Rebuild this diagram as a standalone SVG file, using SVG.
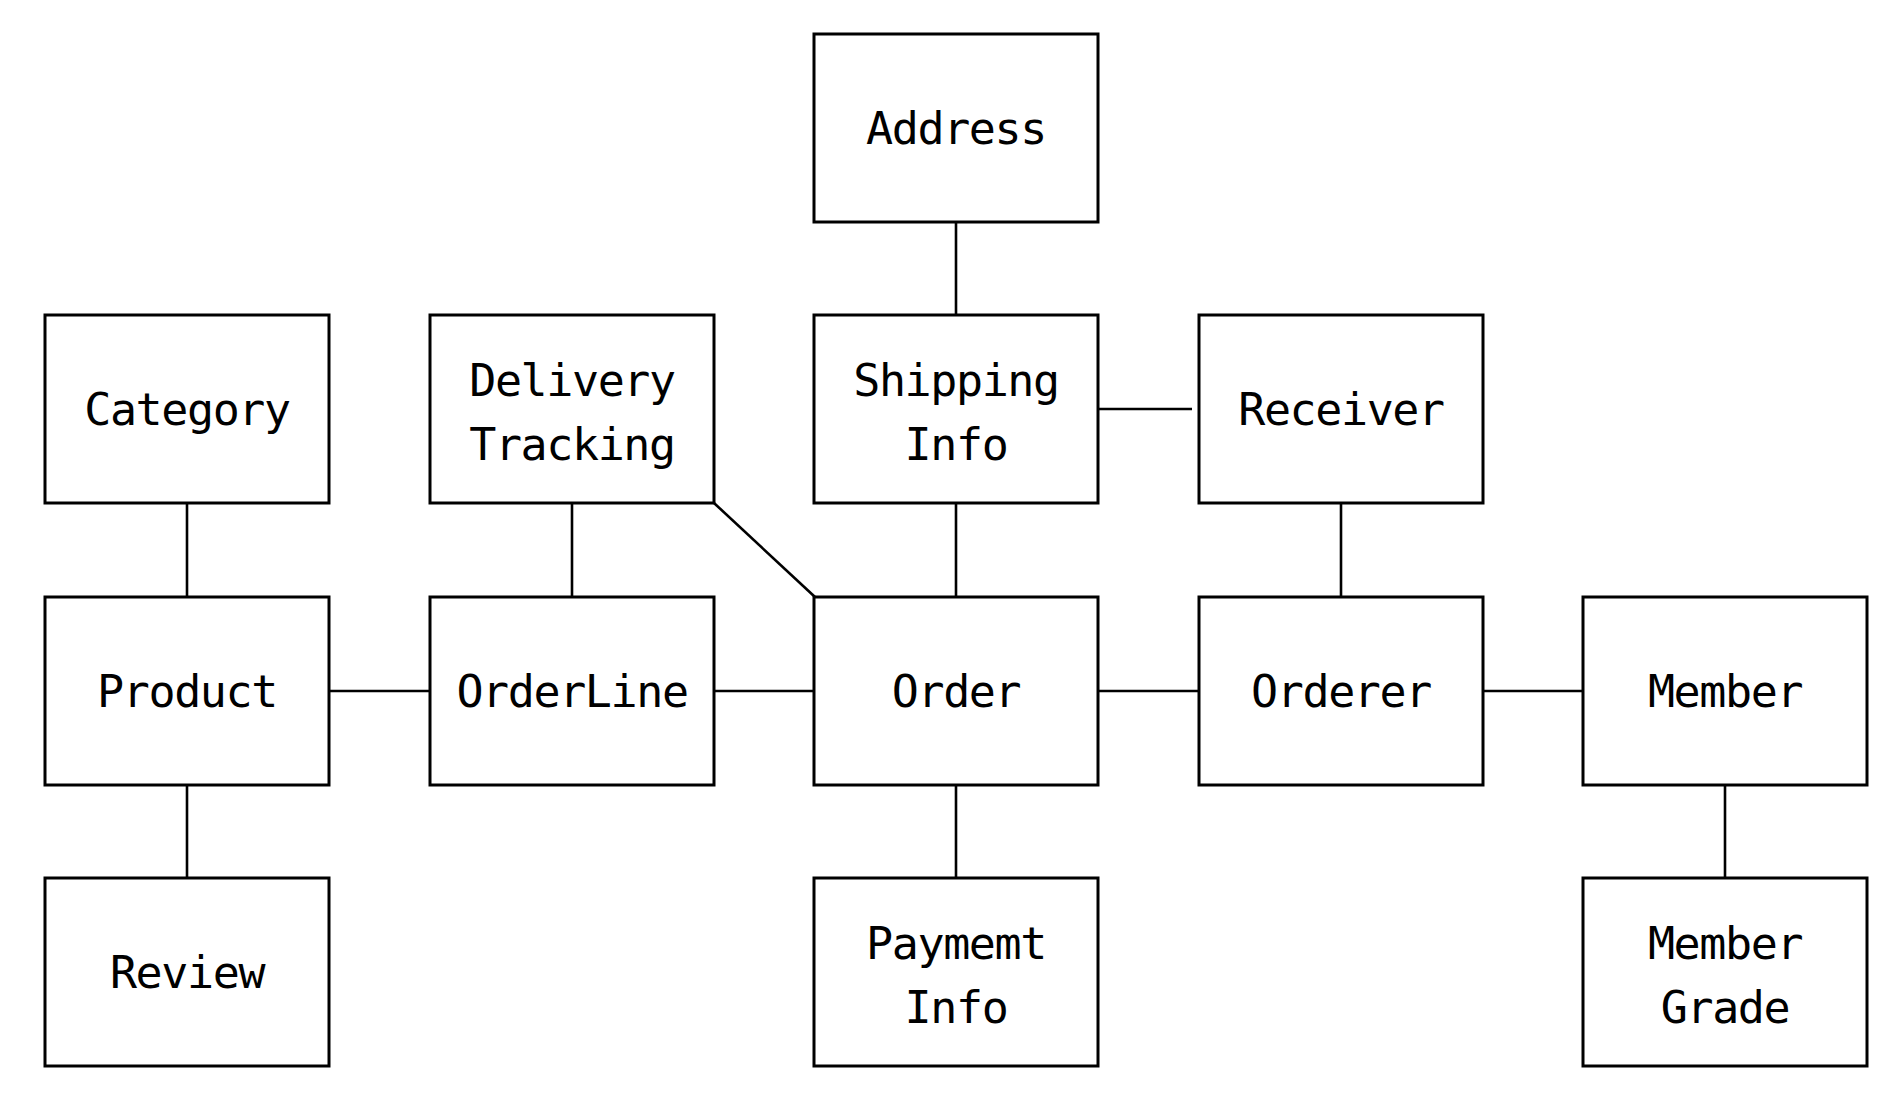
<svg xmlns="http://www.w3.org/2000/svg" width="1902" height="1095" viewBox="0 0 1902 1095">
<style>
.box{fill:#fff;stroke:#000;stroke-width:3}
.lbl{font-family:"DejaVu Sans Mono","Liberation Mono",monospace;font-size:45px;letter-spacing:-1.4px;fill:#000;text-anchor:middle}
.conn line{stroke:#000;stroke-width:2.6;fill:none}
</style>
<rect width="1902" height="1095" fill="#fff"/>
<g id="connectors" class="conn">
<line x1="956" y1="222" x2="956" y2="315"/>
<line x1="1098" y1="409" x2="1192" y2="409"/>
<line x1="187" y1="503" x2="187" y2="597"/>
<line x1="572" y1="503" x2="572" y2="597"/>
<line x1="714" y1="503" x2="815" y2="597"/>
<line x1="956" y1="503" x2="956" y2="597"/>
<line x1="1341" y1="503" x2="1341" y2="597"/>
<line x1="329" y1="691" x2="430" y2="691"/>
<line x1="714" y1="691" x2="814" y2="691"/>
<line x1="1098" y1="691" x2="1199" y2="691"/>
<line x1="1483" y1="691" x2="1583" y2="691"/>
<line x1="187" y1="785" x2="187" y2="878"/>
<line x1="956" y1="785" x2="956" y2="878"/>
<line x1="1725" y1="785" x2="1725" y2="878"/>
</g>
<g id="address"><rect class="box" x="814" y="34" width="284" height="188"/><text class="lbl" x="956" y="144">Address</text></g>
<g id="category"><rect class="box" x="45" y="315" width="284" height="188"/><text class="lbl" x="187" y="425">Category</text></g>
<g id="delivery-tracking"><rect class="box" x="430" y="315" width="284" height="188"/><text class="lbl" x="572" y="396">Delivery</text><text class="lbl" x="572" y="460">Tracking</text></g>
<g id="shipping-info"><rect class="box" x="814" y="315" width="284" height="188"/><text class="lbl" x="956" y="396">Shipping</text><text class="lbl" x="956" y="460">Info</text></g>
<g id="receiver"><rect class="box" x="1199" y="315" width="284" height="188"/><text class="lbl" x="1341" y="425">Receiver</text></g>
<g id="product"><rect class="box" x="45" y="597" width="284" height="188"/><text class="lbl" x="187" y="707">Product</text></g>
<g id="orderline"><rect class="box" x="430" y="597" width="284" height="188"/><text class="lbl" x="572" y="707">OrderLine</text></g>
<g id="order"><rect class="box" x="814" y="597" width="284" height="188"/><text class="lbl" x="956" y="707">Order</text></g>
<g id="orderer"><rect class="box" x="1199" y="597" width="284" height="188"/><text class="lbl" x="1341" y="707">Orderer</text></g>
<g id="member"><rect class="box" x="1583" y="597" width="284" height="188"/><text class="lbl" x="1725" y="707">Member</text></g>
<g id="review"><rect class="box" x="45" y="878" width="284" height="188"/><text class="lbl" x="187" y="988">Review</text></g>
<g id="paymemt-info"><rect class="box" x="814" y="878" width="284" height="188"/><text class="lbl" x="956" y="959">Paymemt</text><text class="lbl" x="956" y="1023">Info</text></g>
<g id="member-grade"><rect class="box" x="1583" y="878" width="284" height="188"/><text class="lbl" x="1725" y="959">Member</text><text class="lbl" x="1725" y="1023">Grade</text></g>
</svg>
